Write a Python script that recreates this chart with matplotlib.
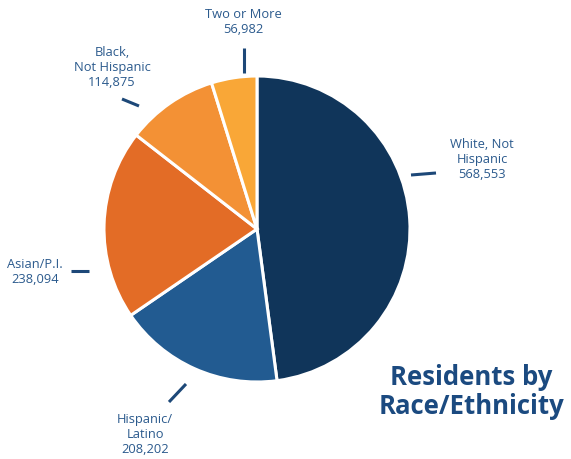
import matplotlib
matplotlib.use('Agg')
import matplotlib.pyplot as plt

# data
groups = ['White, Not\nHispanic', 'Hispanic/\nLatino', 'Asian/P.I.', 'Black,\nNot Hispanic', 'Two or More']
residents = [568553, 208202, 238094, 114875, 56982]
colors = ['#10355a', '#225b91', '#e36c26', '#f39135', '#f9a737']

# label layout in pixel coords (x, y from top): text center, leader line start/end
text_pos = [(482, 160), (145, 435), (35, 272), (112, 67), (243, 22)]
line_pos = [((411, 176), (436, 174)), ((169, 403), (186, 385)), ((71, 272), (89, 272)),
            ((122, 100), (139, 107)), ((244, 49), (244, 74))]

W, H = 571, 460
fig = plt.figure(figsize=(W / 100, H / 100), dpi=100)
ax = fig.add_axes([0, 0, 1, 1])
ax.set_xlim(0, W)
ax.set_ylim(0, H)
ax.set_aspect('equal')
ax.axis('off')

ax.pie(residents, colors=colors, startangle=90, counterclock=False,
       center=(257, H - 230), radius=153,
       wedgeprops=dict(edgecolor='white', linewidth=2.2))
ax.set_xlim(0, W)
ax.set_ylim(0, H)

txt_color = '#2b5a8d'
line_color = '#1d4878'
for name, val, (tx, ty), ((x0, y0), (x1, y1)) in zip(groups, residents, text_pos, line_pos):
    ax.text(tx, H - ty, name + '\n' + f'{val:,}', ha='center', va='center',
            fontsize=9.3, color=txt_color, family='Open Sans', linespacing=1.2)
    ax.plot([x0, x1], [H - y0, H - y1], color=line_color, lw=2.2, solid_capstyle='butt')

ax.text(471, H - 392, 'Residents by\nRace/Ethnicity', ha='center', va='center',
        fontsize=18.5, fontweight='bold', color='#1b4a80', family='Open Sans',
        linespacing=1.1)

fig.savefig('out.png', dpi=100)
